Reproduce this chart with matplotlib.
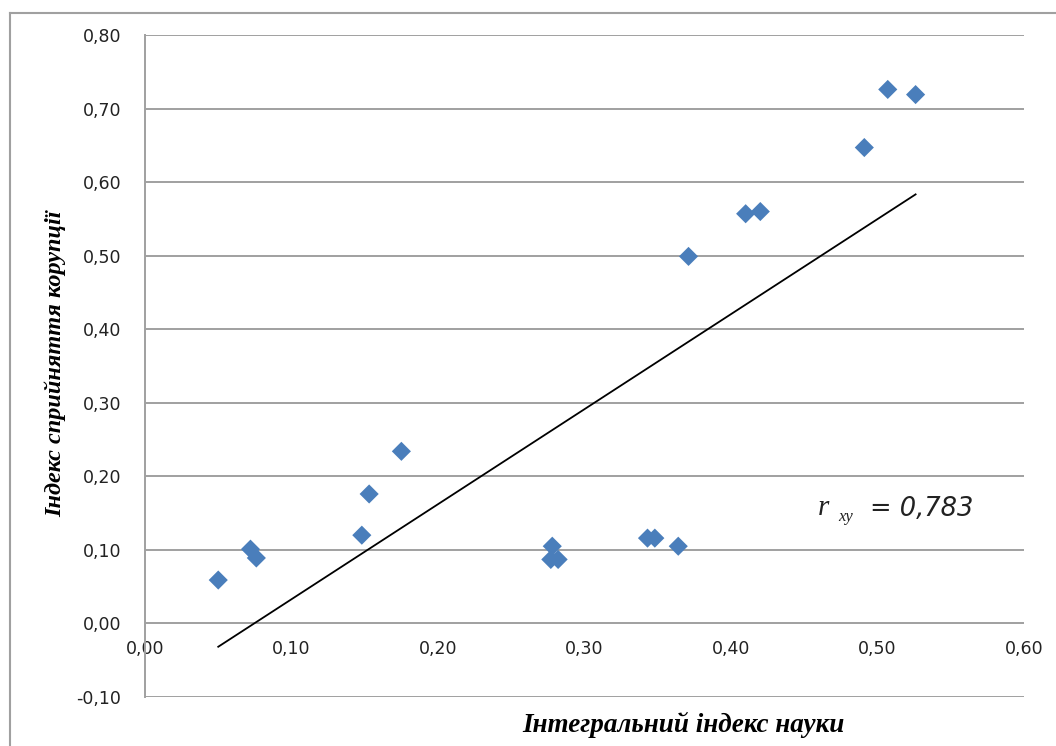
import numpy as np
import matplotlib
matplotlib.use("Agg")
import matplotlib.pyplot as plt
from matplotlib.lines import Line2D
from matplotlib.ticker import FuncFormatter, MultipleLocator

# Data
science_index = [0.050, 0.072, 0.076, 0.148, 0.153, 0.175, 0.278, 0.277, 0.282,
                 0.343, 0.348, 0.364, 0.371, 0.410, 0.420, 0.491, 0.507, 0.526]
corruption_index = [0.059, 0.101, 0.089, 0.120, 0.176, 0.234, 0.105, 0.087, 0.087,
                    0.116, 0.116, 0.105, 0.499, 0.557, 0.560, 0.647, 0.726, 0.719]
x_label = "Інтегральний індекс науки"
y_label = "Індекс сприйняття корупції"
r_symbol = "r"
r_sub = "xy"
r_value = "= 0,783"

W, H = 1056, 746
fig = plt.figure(figsize=(W/100, H/100), dpi=100)
ax = fig.add_axes([145/W, 1-697/H, (1024-145)/W, (697-35)/H])

x = np.array(science_index)
y = np.array(corruption_index)

# linear trend
k, b = np.polyfit(x, y, 1)
xs = np.array([x.min(), x.max()])
ax.plot(xs, k*xs + b, color='black', lw=1.3, zorder=3)

ax.scatter(x, y, marker='D', s=95, color='#4A7EBB', edgecolors='none', zorder=4)

ax.set_xlim(0, 0.6)
ax.set_ylim(-0.10, 0.80)
ax.xaxis.set_major_locator(MultipleLocator(0.1))
ax.yaxis.set_major_locator(MultipleLocator(0.1))
fmt = FuncFormatter(lambda v, p: f"{v:.2f}".replace('.', ',').replace('-0,00', '0,00'))
ax.xaxis.set_major_formatter(fmt)
ax.yaxis.set_major_formatter(fmt)

ax.grid(axis='y', color='#a0a0a0', lw=1.4)
ax.set_axisbelow(True)
for s in ['top', 'right']:
    ax.spines[s].set_visible(False)
ax.spines['bottom'].set_position(('data', 0))
ax.spines['bottom'].set_visible(False)
ax.spines['left'].set_color('#a0a0a0')
ax.spines['left'].set_linewidth(1.4)
ax.tick_params(axis='both', length=0, labelsize=12.5, labelcolor='#222222')
ax.tick_params(axis='y', pad=17)
ax.tick_params(axis='x', pad=12)

fig.text(683/W, 1-725/H, x_label, ha='center', va='center',
         family='Liberation Serif', style='italic', weight='bold', fontsize=19.5)
fig.text(55/W, 1-364/H, y_label, ha='center', va='center', rotation=90,
         family='Liberation Serif', style='italic', weight='bold', fontsize=17.5)

# correlation annotation
fig.text(818/W, 1-515/H, r_symbol, ha='left', va='baseline',
         family='Liberation Serif', style='italic', fontsize=21, color='#222222')
fig.text(838/W, 1-521/H, r_sub, ha='left', va='baseline',
         family='Liberation Serif', style='italic', fontsize=12, color='#222222')
fig.text(870/W, 1-516/H, r_value, ha='left', va='baseline',
         family='DejaVu Sans', style='italic', fontsize=18.5, color='#222222')

# outer chart border
fig.add_artist(Line2D([10/W, 1.0], [1-13/H, 1-13/H], transform=fig.transFigure,
                      color='#a0a0a0', lw=1.5))
fig.add_artist(Line2D([10/W, 10/W], [0, 1-13/H], transform=fig.transFigure,
                      color='#a0a0a0', lw=1.5))

fig.savefig('out.png', dpi=100)
